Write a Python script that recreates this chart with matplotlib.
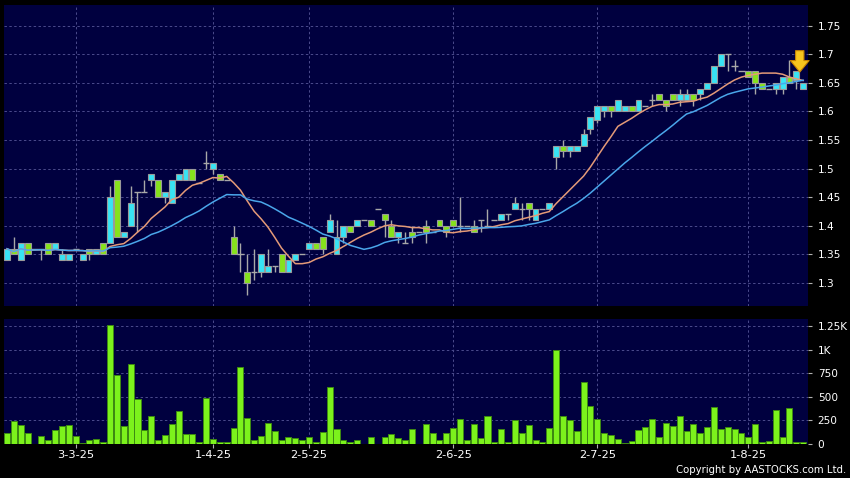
import matplotlib
matplotlib.use("Agg")
import matplotlib.pyplot as plt
import numpy as np
import pandas as pd

# daily OHLC, one slot per trading day (index 0..116)
opens = [1.34, 1.36, 1.34, 1.37, 1.36, 1.36, 1.37, 1.36, 1.34, 1.34,
         1.36, 1.34, 1.36, 1.35, 1.37, 1.37, 1.48, 1.38, 1.40, 1.46,
         1.46, 1.48, 1.48, 1.45, 1.44, 1.48, 1.48, 1.50, 1.475, 1.51,
         1.50, 1.49, 1.48, 1.38, 1.35, 1.32, 1.32, 1.32, 1.32, 1.33,
         1.35, 1.32, 1.34, 1.35, 1.36, 1.37, 1.38, 1.39, 1.35, 1.38,
         1.40, 1.40, 1.41, 1.41, 1.43, 1.42, 1.40, 1.38, 1.37, 1.39,
         1.39, 1.40, 1.39, 1.41, 1.40, 1.41, 1.40, 1.40, 1.40, 1.41,
         1.40, 1.41, 1.41, 1.42, 1.43, 1.43, 1.44, 1.41, 1.43, 1.43,
         1.52, 1.54, 1.53, 1.53, 1.54, 1.57, 1.585, 1.60, 1.61, 1.60,
         1.60, 1.61, 1.60, 1.61, 1.62, 1.63, 1.62, 1.63, 1.62, 1.62,
         1.63, 1.63, 1.64, 1.65, 1.68, 1.70, 1.68, 1.67, 1.67, 1.67,
         1.65, 1.64, 1.64, 1.64, 1.66, 1.655, 1.64]
highs = [1.36, 1.38, 1.37, 1.37, 1.36, 1.36, 1.37, 1.37, 1.36, 1.35,
         1.36, 1.35, 1.36, 1.36, 1.37, 1.47, 1.48, 1.39, 1.47, 1.46,
         1.48, 1.49, 1.48, 1.46, 1.48, 1.49, 1.50, 1.50, 1.475, 1.53,
         1.51, 1.49, 1.48, 1.40, 1.37, 1.35, 1.36, 1.35, 1.36, 1.33,
         1.35, 1.34, 1.35, 1.35, 1.37, 1.37, 1.38, 1.42, 1.41, 1.40,
         1.40, 1.41, 1.41, 1.41, 1.43, 1.42, 1.41, 1.39, 1.39, 1.40,
         1.39, 1.41, 1.39, 1.41, 1.40, 1.41, 1.45, 1.40, 1.41, 1.41,
         1.43, 1.41, 1.42, 1.42, 1.45, 1.44, 1.44, 1.43, 1.43, 1.44,
         1.54, 1.55, 1.54, 1.54, 1.57, 1.59, 1.61, 1.61, 1.61, 1.62,
         1.61, 1.61, 1.62, 1.61, 1.63, 1.63, 1.62, 1.63, 1.64, 1.64,
         1.63, 1.64, 1.65, 1.68, 1.70, 1.70, 1.69, 1.67, 1.67, 1.67,
         1.65, 1.64, 1.65, 1.66, 1.69, 1.67, 1.65]
lows = [1.34, 1.35, 1.34, 1.35, 1.36, 1.34, 1.35, 1.36, 1.34, 1.34,
        1.36, 1.34, 1.34, 1.35, 1.35, 1.37, 1.38, 1.38, 1.40, 1.39,
        1.46, 1.47, 1.45, 1.44, 1.44, 1.48, 1.48, 1.48, 1.475, 1.50,
        1.49, 1.48, 1.48, 1.35, 1.32, 1.28, 1.305, 1.31, 1.32, 1.32,
        1.32, 1.32, 1.34, 1.35, 1.36, 1.36, 1.35, 1.39, 1.35, 1.37,
        1.39, 1.40, 1.41, 1.40, 1.43, 1.38, 1.38, 1.37, 1.37, 1.37,
        1.39, 1.37, 1.39, 1.40, 1.38, 1.40, 1.39, 1.40, 1.39, 1.39,
        1.40, 1.41, 1.41, 1.41, 1.43, 1.41, 1.41, 1.41, 1.43, 1.43,
        1.50, 1.52, 1.52, 1.53, 1.54, 1.56, 1.58, 1.59, 1.59, 1.60,
        1.60, 1.60, 1.60, 1.61, 1.61, 1.62, 1.60, 1.62, 1.61, 1.62,
        1.61, 1.62, 1.64, 1.65, 1.68, 1.67, 1.67, 1.67, 1.66, 1.63,
        1.64, 1.64, 1.63, 1.63, 1.65, 1.64, 1.64]
closes = [1.36, 1.35, 1.37, 1.35, 1.36, 1.36, 1.35, 1.37, 1.35, 1.35,
          1.36, 1.35, 1.35, 1.36, 1.35, 1.45, 1.38, 1.39, 1.44, 1.46,
          1.46, 1.49, 1.45, 1.46, 1.48, 1.49, 1.50, 1.48, 1.475, 1.51,
          1.51, 1.48, 1.48, 1.35, 1.35, 1.30, 1.32, 1.35, 1.33, 1.33,
          1.32, 1.34, 1.35, 1.35, 1.37, 1.36, 1.36, 1.41, 1.38, 1.40,
          1.39, 1.41, 1.41, 1.40, 1.43, 1.41, 1.38, 1.39, 1.37, 1.38,
          1.39, 1.39, 1.39, 1.40, 1.39, 1.40, 1.40, 1.40, 1.39, 1.41,
          1.40, 1.41, 1.42, 1.42, 1.44, 1.43, 1.43, 1.43, 1.43, 1.44,
          1.54, 1.53, 1.54, 1.54, 1.56, 1.59, 1.61, 1.61, 1.60, 1.62,
          1.61, 1.60, 1.62, 1.61, 1.62, 1.62, 1.61, 1.62, 1.63, 1.63,
          1.62, 1.64, 1.65, 1.68, 1.70, 1.70, 1.68, 1.67, 1.66, 1.65,
          1.64, 1.64, 1.65, 1.66, 1.65, 1.67, 1.65]
volumes = [111, 236, 193, 107, 0, 75, 32, 139, 182, 200,
           82, 3, 39, 46, 18, 1260, 725, 182, 850, 471,
           146, 293, 36, 89, 207, 343, 96, 104, 18, 482,
           50, 18, 18, 168, 811, 275, 36, 82, 214, 136,
           39, 68, 54, 36, 68, 11, 121, 596, 154, 36,
           14, 36, 0, 64, 0, 71, 100, 57, 36, 157,
           0, 207, 111, 32, 114, 164, 264, 36, 204, 54,
           293, 11, 157, 14, 254, 111, 193, 39, 18, 164,
           1000, 289, 254, 136, 650, 403, 261, 111, 86, 43,
           3, 25, 146, 179, 257, 64, 218, 189, 293, 129,
           211, 111, 175, 386, 157, 179, 157, 111, 64, 204,
           14, 29, 357, 71, 375, 14, 14]

date_labels = ["3-3-25", "1-4-25", "2-5-25", "2-6-25", "2-7-25", "1-8-25"]
date_slots = [10, 30, 44, 65, 86, 108]
price_ticks = [1.3, 1.35, 1.4, 1.45, 1.5, 1.55, 1.6, 1.65, 1.7, 1.75]
vol_ticks = [0, 250, 500, 750, 1000, 1250]
vol_tick_labels = ["0", "250", "500", "750", "1K", "1.25K"]
signal_slot = 115

BG = "#00003f"
GRID = "#4b4b8c"
UP = "#38e4f4"
DOWN = "#86e21c"
EDGE = "#9a9a9a"

o = np.array(opens)
h = np.array(highs)
l = np.array(lows)
c = np.array(closes)
v = np.array(volumes)
x = np.arange(len(c))

ma10 = pd.Series(c).rolling(10, min_periods=1).mean()
ma20 = pd.Series(c).rolling(20, min_periods=1).mean()

fig = plt.figure(figsize=(8.5, 4.78), dpi=100, facecolor="black")
ax = fig.add_axes([4 / 850, 1 - 306 / 478, 804 / 850, 301 / 478])
axv = fig.add_axes([4 / 850, 1 - 443.5 / 478, 804 / 850, 125 / 478])

for a in (ax, axv):
    a.set_facecolor(BG)
    for s in a.spines.values():
        s.set_visible(False)
    a.set_xlim(-0.45, 116.7)
    for xs in date_slots:
        a.axvline(xs, color=GRID, lw=0.7, ls=(0, (2.5, 2.5)), zorder=0)
    a.yaxis.tick_right()
    a.tick_params(axis="y", colors="#b0b0b0", labelcolor="white", length=3,
                  width=0.8, labelsize=7.6, pad=4)

# price panel
ax.set_ylim(1.26, 1.786)
for p in price_ticks:
    ax.axhline(p, color=GRID, lw=0.7, ls=(0, (2.5, 2.5)), zorder=0)
ax.set_yticks(price_ticks)
ax.set_yticklabels(["%g" % p for p in price_ticks])
ax.set_xticks([])

ax.vlines(x, l, h, color="#a8a8a8", lw=1, zorder=2)
up = c > o
dn = c < o
ax.bar(x[up], (c - o)[up], bottom=o[up], width=0.86, color=UP,
       edgecolor=EDGE, linewidth=0.8, zorder=3)
ax.bar(x[dn], (o - c)[dn], bottom=c[dn], width=0.86, color=DOWN,
       edgecolor=EDGE, linewidth=0.8, zorder=3)
dj = c == o
ax.hlines(c[dj], x[dj] - 0.45, x[dj] + 0.45, color="#a8a8a8", lw=1, zorder=3)

ax.plot(x, ma10, color="#e49a78", lw=1.1, zorder=4)
ax.plot(x, ma20, color="#4aa6ea", lw=1.1, zorder=4)

ax.annotate("", xy=(signal_slot + 0.5, h[signal_slot] - 0.006),
            xytext=(signal_slot + 0.5, h[signal_slot] + 0.041),
            arrowprops=dict(arrowstyle="simple,head_width=0.9,head_length=0.55,tail_width=0.4",
                            fc="#f7c51e", ec="#c88400", lw=0.8, mutation_scale=15),
            zorder=6)

# volume panel
axv.set_ylim(0, 1330)
for vt in vol_ticks[1:]:
    axv.axhline(vt, color=GRID, lw=0.7, ls=(0, (2.5, 2.5)), zorder=0)
axv.set_yticks(vol_ticks)
axv.set_yticklabels(vol_tick_labels)
axv.bar(x, v, width=0.88, color="#7cf21c", edgecolor="#3d8a12", linewidth=0.7, zorder=3)
axv.set_xticks(date_slots)
axv.set_xticklabels(date_labels)
axv.tick_params(axis="x", colors="#b0b0b0", labelcolor="white", length=3,
                width=0.8, labelsize=8.2, pad=2)

fig.text(0.995, 0.006, "Copyright by AASTOCKS.com Ltd.", ha="right", va="bottom",
         color="white", fontsize=7.3)

fig.savefig("out.png", dpi=100, facecolor="black")
